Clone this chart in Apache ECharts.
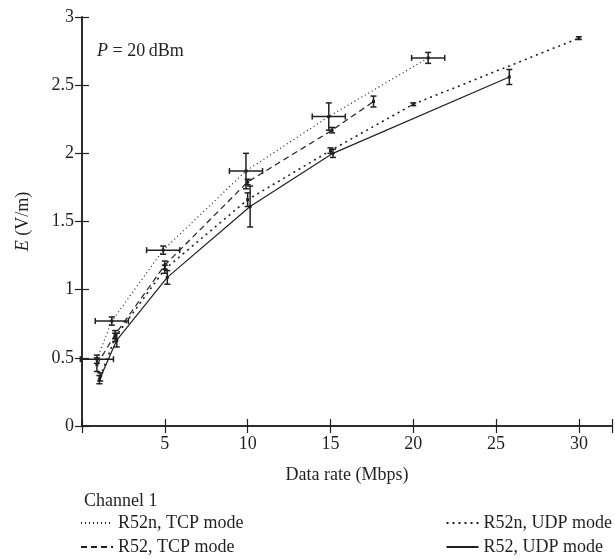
<!DOCTYPE html>
<html>
<head>
<meta charset="utf-8">
<script src="https://cdn.jsdelivr.net/npm/echarts@6/dist/echarts.min.js"></script>
<style>
  html, body { margin: 0; padding: 0; background: #fff; }
  #chart { width: 615px; height: 560px; }
</style>
</head>
<body>
<div id="chart"></div>
<script>
// data (x = data rate in Mbps, y = E in V/m)
var tcpNX = [0.9, 1.8, 4.9, 9.9, 14.9, 20.9];
var tcpNY = [0.49, 0.77, 1.29, 1.87, 2.27, 2.70];
var tcpNXErr = [1.0, 1.0, 1.0, 1.0, 1.0, 1.0];
var tcpNYErr = [0.03, 0.03, 0.03, 0.13, 0.1, 0.04];

var tcpX = [0.9, 2.0, 5.0, 10.0, 15.1, 17.6];
var tcpY = [0.45, 0.67, 1.18, 1.79, 2.17, 2.38];
var tcpYErr = [0.05, 0.03, 0.03, 0.02, 0.02, 0.04];

var udpNX = [1.1, 2.0, 5.0, 10.0, 15.0, 20.0, 30.0];
var udpNY = [0.36, 0.65, 1.15, 1.66, 2.02, 2.36, 2.845];
var udpNYErr = [0.03, 0.03, 0.03, 0.05, 0.02, 0.01, 0.01];

var udpX = [1.05, 2.1, 5.15, 10.15, 15.15, 25.8];
var udpY = [0.34, 0.63, 1.09, 1.61, 2.0, 2.56];
var udpYErr = [0.03, 0.05, 0.05, 0.15, 0.03, 0.055];

var xTicks = [5, 10, 15, 20, 25, 30];
var yTicks = [0, 0.5, 1, 1.5, 2, 2.5, 3];

var font = 'Liberation Serif';
var ink = '#231f20';
var fs = 18;

function pairs(xs, ys) {
  var out = [];
  for (var i = 0; i < xs.length; i++) out.push([xs[i], ys[i]]);
  return out;
}
function errRows(xs, ys, xe, ye) {
  var out = [];
  for (var i = 0; i < xs.length; i++) {
    out.push([xs[i], ys[i], xe ? xe[i] : 0, ye ? ye[i] : 0]);
  }
  return out;
}

// error bars: vertical (and horizontal when given) with small caps
function renderErr(params, api) {
  var x = api.value(0), y = api.value(1), ex = api.value(2), ey = api.value(3);
  var style = { stroke: ink, lineWidth: 1.5 };
  var cap = 3;
  var kids = [];
  if (ey > 0) {
    var t = api.coord([x, y + ey]), b = api.coord([x, y - ey]);
    kids.push({ type: 'line', shape: { x1: t[0], y1: t[1], x2: b[0], y2: b[1] }, style: style });
    kids.push({ type: 'line', shape: { x1: t[0] - cap, y1: t[1], x2: t[0] + cap, y2: t[1] }, style: style });
    kids.push({ type: 'line', shape: { x1: b[0] - cap, y1: b[1], x2: b[0] + cap, y2: b[1] }, style: style });
  }
  if (ex > 0) {
    var l = api.coord([x - ex, y]), r = api.coord([x + ex, y]);
    kids.push({ type: 'line', shape: { x1: l[0], y1: l[1], x2: r[0], y2: r[1] }, style: style });
    kids.push({ type: 'line', shape: { x1: l[0], y1: l[1] - cap, x2: l[0], y2: l[1] + cap }, style: style });
    kids.push({ type: 'line', shape: { x1: r[0], y1: r[1] - cap, x2: r[0], y2: r[1] + cap }, style: style });
  }
  var c = api.coord([x, y]);
  kids.push({ type: 'rect', shape: { x: c[0] - 1.5, y: c[1] - 1.5, width: 3, height: 3 }, style: { fill: ink } });
  return { type: 'group', children: kids };
}

function lineSeries(name, data, lineType, width) {
  return {
    name: name,
    type: 'line',
    data: data,
    symbol: 'none',
    silent: true,
    animation: false,
    lineStyle: { color: ink, width: width, type: lineType },
    itemStyle: { color: ink, opacity: 0 }
  };
}
function errSeries(rows) {
  return {
    type: 'custom',
    renderItem: renderErr,
    data: rows,
    encode: { x: 0, y: 1 },
    silent: true,
    animation: false,
    z: 3
  };
}

var chart = echarts.init(document.getElementById('chart'));
var axisLine = { show: true, lineStyle: { color: ink, width: 1.5 } };
var tick = { show: true, inside: true, length: 7, lineStyle: { color: ink, width: 1.2 } };
var legendText = { fontFamily: font, fontSize: fs, color: ink };

var option = {
  backgroundColor: '#fff',
  animation: false,
  textStyle: { fontFamily: font, color: ink },
  grid: { left: 82, right: 3, top: 17, bottom: 134 },
  title: {
    text: 'Channel 1',
    left: 84,
    top: 492,
    padding: 0,
    textStyle: { fontFamily: font, fontSize: fs, fontWeight: 'normal', color: ink }
  },
  legend: [{
    data: ['R52n, TCP mode', 'R52, TCP mode'],
    orient: 'vertical',
    left: 80,
    top: 514,
    padding: 0,
    itemGap: 6,
    itemWidth: 32,
    itemHeight: 18,
    itemStyle: { opacity: 0 },
    textStyle: legendText
  }, {
    data: ['R52n, UDP mode', 'R52, UDP mode'],
    orient: 'vertical',
    right: 3,
    top: 514,
    padding: 0,
    itemGap: 6,
    itemWidth: 32,
    itemHeight: 18,
    itemStyle: { opacity: 0 },
    textStyle: legendText
  }],
  graphic: [{
    type: 'text',
    left: 97,
    top: 42,
    style: {
      text: '{i|P} = 20\u2009dBm',
      rich: {
        i: { fontFamily: font, fontSize: fs, fontStyle: 'italic', fill: ink }
      },
      font: fs + 'px ' + font,
      fill: ink
    }
  }],
  xAxis: [{
    type: 'value',
    min: 0,
    max: 32,
    interval: 5,
    name: 'Data rate (Mbps)',
    nameLocation: 'middle',
    nameGap: 40,
    nameTextStyle: { fontFamily: font, fontSize: fs, color: ink },
    axisLine: axisLine,
    axisTick: tick,
    splitLine: { show: false },
    axisLabel: {
      color: ink, fontFamily: font, fontSize: fs, margin: 9,
      formatter: function (v) { return xTicks.indexOf(v) >= 0 ? String(v) : ''; }
    }
  }, {
    type: 'value',
    position: 'top',
    min: 0,
    max: 32,
    interval: 5,
    axisLine: axisLine,
    axisTick: tick,
    axisLabel: { show: false },
    splitLine: { show: false }
  }],
  yAxis: [{
    type: 'value',
    min: 0,
    max: 3,
    interval: 0.5,
    name: '{i|E} (V/m)',
    nameLocation: 'middle',
    nameGap: 50,
    nameRotate: 90,
    nameTextStyle: {
      fontFamily: font, fontSize: fs, color: ink,
      rich: { i: { fontFamily: font, fontSize: fs, fontStyle: 'italic', color: ink } }
    },
    axisLine: axisLine,
    axisTick: tick,
    splitLine: { show: false },
    axisLabel: {
      color: ink, fontFamily: font, fontSize: fs, margin: 8,
      formatter: function (v) { return yTicks.indexOf(v) >= 0 ? String(v) : ''; }
    }
  }, {
    type: 'value',
    position: 'right',
    min: 0,
    max: 3,
    interval: 0.5,
    axisLine: axisLine,
    axisTick: tick,
    axisLabel: { show: false },
    splitLine: { show: false }
  }],
  series: [
    lineSeries('R52n, TCP mode', pairs(tcpNX, tcpNY), [1, 3], 1.2),
    lineSeries('R52, TCP mode', pairs(tcpX, tcpY), [6, 4], 1.2),
    lineSeries('R52n, UDP mode', pairs(udpNX, udpNY), [2, 4], 1.6),
    lineSeries('R52, UDP mode', pairs(udpX, udpY), 'solid', 1.2),
    errSeries(errRows(tcpNX, tcpNY, tcpNXErr, tcpNYErr)),
    errSeries(errRows(tcpX, tcpY, null, tcpYErr)),
    errSeries(errRows(udpNX, udpNY, null, udpNYErr)),
    errSeries(errRows(udpX, udpY, null, udpYErr))
  ]
};
chart.setOption(option);
</script>
</body>
</html>
